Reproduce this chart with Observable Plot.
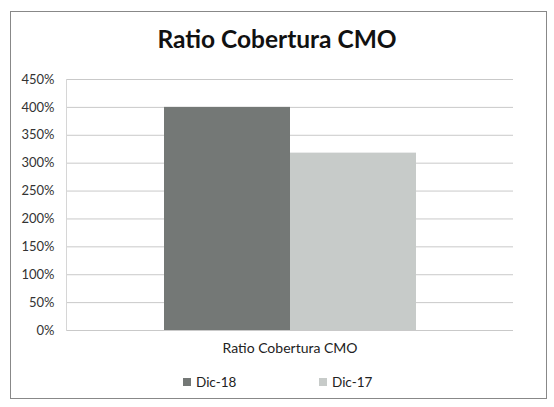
<!DOCTYPE html>
<html><head><meta charset="utf-8">
<script src="https://cdn.jsdelivr.net/npm/d3@7"></script>
<script src="https://cdn.jsdelivr.net/npm/@observablehq/plot@0.6"></script>
<style>
body{margin:0;background:#fff;font-family:Lato,"Open Sans",sans-serif;}
#wrap{position:relative;width:554px;height:407px;overflow:hidden;}
#box{position:absolute;left:10px;top:11px;width:537px;height:388px;border:1px solid #888;box-sizing:border-box;}
#title{position:absolute;left:0;top:24px;width:554px;text-align:center;font-size:24.5px;font-weight:bold;color:#111;}
#chart{position:absolute;left:0;top:60px;}
#legend{position:absolute;top:374px;left:0;width:554px;font-size:13.5px;color:#222;}
.li{position:absolute;display:flex;align-items:center;}
.sw{width:8px;height:8px;margin-right:5px;}
</style></head>
<body><div id="wrap"><div id="box"></div><div id="title">Ratio Cobertura CMO</div><div id="chart"></div><div id="legend"></div></div>
<script>
const categoryLabel = "Ratio Cobertura CMO";
const series = ["Dic-18", "Dic-17"];
const values = [400, 318];
const colors = ["#747876", "#c7cbc9"];
const yTicks = [0, 50, 100, 150, 200, 250, 300, 350, 400, 450];

const data = series.map((s, i) => ({series: s, value: values[i]}));

const plot = Plot.plot({
  width: 554, height: 300,
  marginLeft: 66, marginRight: 41, marginTop: 19, marginBottom: 30,
  style: {fontFamily: "Lato, 'Open Sans', sans-serif", fontSize: "13px", color: "#333", background: "transparent"},
  x: {domain: series, paddingInner: 0, paddingOuter: 0.767, axis: null},
  y: {domain: [0, 450], ticks: yTicks, tickFormat: d => d + "%", label: null, tickSize: 0, tickPadding: 12},
  color: {domain: series, range: colors},
  marks: [
    Plot.ruleY(yTicks, {stroke: "#c9c9c9", strokeWidth: 1}),
    Plot.frame({anchor: "left", stroke: "#d6d6d6"}),
    Plot.barY(data, {x: "series", y: "value", fill: "series", inset: 0}),
    Plot.text([categoryLabel], {frameAnchor: "bottom", dy: 22, fontSize: 14, fill: "#222"})
  ]
});
document.getElementById("chart").appendChild(plot);

const leg = document.getElementById("legend");
const legX = [183, 319];
series.forEach((s, i) => {
  const d = document.createElement("div");
  d.className = "li";
  d.style.left = legX[i] + "px";
  d.innerHTML = `<span class="sw" style="background:${colors[i]}"></span><span>${s}</span>`;
  leg.appendChild(d);
});
</script></body></html>
